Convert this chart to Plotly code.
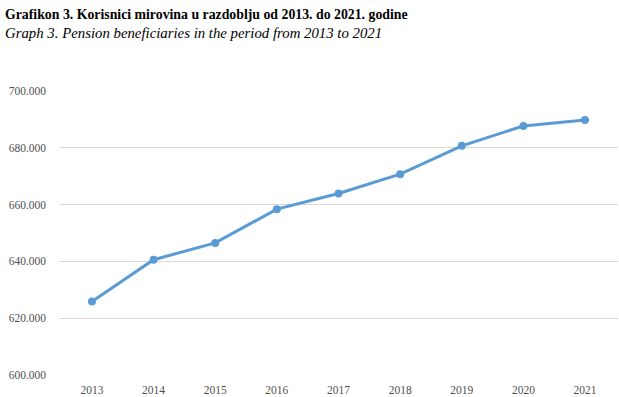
import plotly.graph_objects as go

years = ["2013", "2014", "2015", "2016", "2017", "2018", "2019", "2020", "2021"]
beneficiaries = [625900, 640600, 646500, 658400, 663900, 670700, 680700, 687700, 689800]
y_ticks = [600000, 620000, 640000, 660000, 680000, 700000]

title_main = "Grafikon 3. Korisnici mirovina u razdoblju od 2013. do 2021. godine"
title_sub = "Graph 3. Pension beneficiaries in the period from 2013 to 2021"

W, H = 619, 397
ml, mr, mt, mb = 59, 1, 91, 22

fig = go.Figure()
fig.add_trace(go.Scatter(
    x=years, y=beneficiaries, mode="lines+markers",
    line=dict(color="#5B9BD5", width=3),
    marker=dict(color="#5B9BD5", size=8),
    hoverinfo="skip",
))

pw = W - ml - mr
ph = H - mt - mb
fig.add_annotation(text="<b>" + title_main + "</b>", xref="paper", yref="paper",
                   x=-(ml - 3) / pw, y=1 + (mt - 14) / ph, xanchor="left", yanchor="middle",
                   showarrow=False, font=dict(family="Liberation Serif", size=13.8, color="#000000"))
fig.add_annotation(text="<i>" + title_sub + "</i>", xref="paper", yref="paper",
                   x=-(ml - 3) / pw, y=1 + (mt - 33) / ph, xanchor="left", yanchor="middle",
                   showarrow=False, font=dict(family="Liberation Serif", size=14.8, color="#000000"))

fig.update_layout(
    width=W, height=H,
    margin=dict(l=ml, r=mr, t=mt, b=mb),
    paper_bgcolor="white", plot_bgcolor="white",
    separators=",.",
    showlegend=False,
    hovermode=False,
    font=dict(family="Liberation Serif", size=11, color="#595959"),
)
fig.update_xaxes(type="category", showgrid=False, showline=False, ticks="",
                 tickfont=dict(size=11.5, color="#505050"), ticklabelstandoff=6)
fig.update_yaxes(range=[600000, 700000], tickvals=y_ticks, tickformat=",d",
                 showgrid=True, gridcolor="#d9d9d9", gridwidth=1,
                 zeroline=False, showline=False, ticks="",
                 tickfont=dict(size=11.5, color="#505050"), ticklabelstandoff=12)

fig.write_html("out.html", config={"displayModeBar": False, "staticPlot": True},
               post_script="document.body.style.margin='0';document.body.style.overflow='hidden';")
